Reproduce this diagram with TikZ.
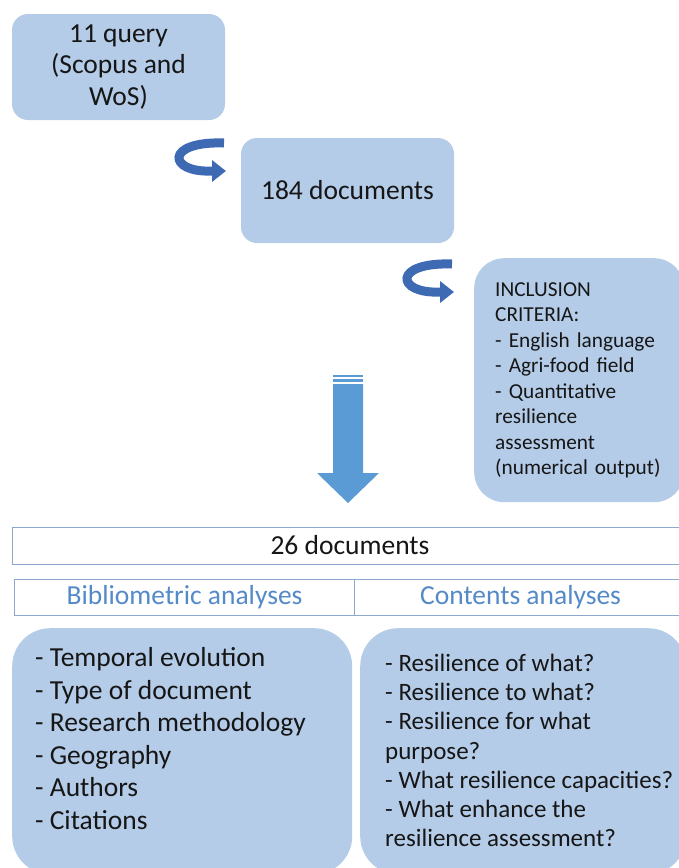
\documentclass[tikz,border=0pt]{standalone}
\usepackage{fontspec}
\setmainfont{Carlito}
\usetikzlibrary{arrows.meta,positioning}

\definecolor{boxBlue}{RGB}{180,204,232}
\definecolor{turnBlue}{RGB}{62,106,180}
\definecolor{arrowBlue}{RGB}{91,155,213}
\definecolor{lineBlue}{RGB}{140,168,204}
\definecolor{headBlue}{RGB}{84,138,200}
\definecolor{inkGray}{RGB}{22,22,22}

\tikzstyle{flowboxes}=[%
	every node/.style = {%
		text=inkGray,
		inner sep=0pt
	},%
	blueBox/.style={%
		fill=boxBlue,
		draw=none,
		rounded corners=16pt,
		align=center,
		font=\fontsize{27.5}{31.5}\selectfont
	},%
	headBox/.style={%
		draw=lineBlue,
		line width=1.2pt,
		fill=white,
		font=\fontsize{27.5}{31.5}\selectfont
	},%
	turnArrow/.style={%
		draw=turnBlue,
		line width=9pt,
		-{Triangle[length=14pt,width=21pt]}
	}
]

\tikzset{%
	uturn/.pic={%
		\draw[turnArrow] (0,0) .. controls (-60,-2) and (-56,30) .. (-12,28) -- (2,28);
	}
}

\begin{document}
\begin{tikzpicture}[
	x=1pt,
	y=-1pt,
	flowboxes
]
	\clip (0,0) rectangle (679,868);
	\fill[white] (0,0) rectangle (679,868);

	\node[blueBox, minimum width=213, minimum height=106] (query) at (118.5,67)
		{11 query\\(Scopus and\\WoS)};
	\node[blueBox, minimum width=213, minimum height=105] (docs) at (347.5,190.5)
		{184 documents};
	\node[blueBox, rounded corners=30pt, anchor=north west,
		minimum width=210, minimum height=244, inner xsep=21pt, text width=168,
		align=left, font=\fontsize{21.3}{25.5}\selectfont] (criteria) at (474,258)
		{INCLUSION\\CRITERIA:\\- English language\\- Agri-food field\\- Quantitative\\resilience\\assessment\\(numerical output)};

	\pic at (224,143) {uturn};
	\pic at (452,264) {uturn};

	% big arrow down to the result
	\fill[arrowBlue] (333,374.5) rectangle (363,377);
	\fill[arrowBlue] (333,379) rectangle (363,382);
	\fill[arrowBlue] (333,384) -- (363,384) -- (363,473) -- (379,473)
		-- (348,503) -- (317,473) -- (333,473) -- cycle;

	\node[headBox, anchor=north west, minimum width=674, minimum height=37] (total) at (12,527) {};
	\node (totalText) at (350,545.5) {\fontsize{27.5}{31.5}\selectfont 26 documents};

	\node[headBox, anchor=north west, minimum width=340, minimum height=36, text=headBlue] (biblioHead) at (14,579)
		{Bibliometric analyses};
	\node[headBox, anchor=north west, minimum width=332, minimum height=36, text=headBlue] (contentHead) at (354,579)
		{Contents analyses};

	\node[blueBox, rounded corners=38pt, anchor=north west, minimum width=340, minimum height=246] (biblioBox) at (12,628) {};
	\node[blueBox, rounded corners=38pt, anchor=north west, minimum width=326, minimum height=246] (contentBox) at (360,628) {};

	\node[anchor=west, align=left, font=\fontsize{27.5}{32.6}\selectfont] (biblioList) at (35,738.5)
		{- Temporal evolution\\- Type of document\\- Research methodology\\- Geography\\- Authors\\- Citations};
	\node[anchor=west, align=left, font=\fontsize{25}{29.2}\selectfont] (contentList) at (385,750.5)
		{- Resilience of what?\\- Resilience to what?\\- Resilience for what\\purpose?\\- What resilience capacities?\\- What enhance the\\resilience assessment?};
\end{tikzpicture}
\end{document}
